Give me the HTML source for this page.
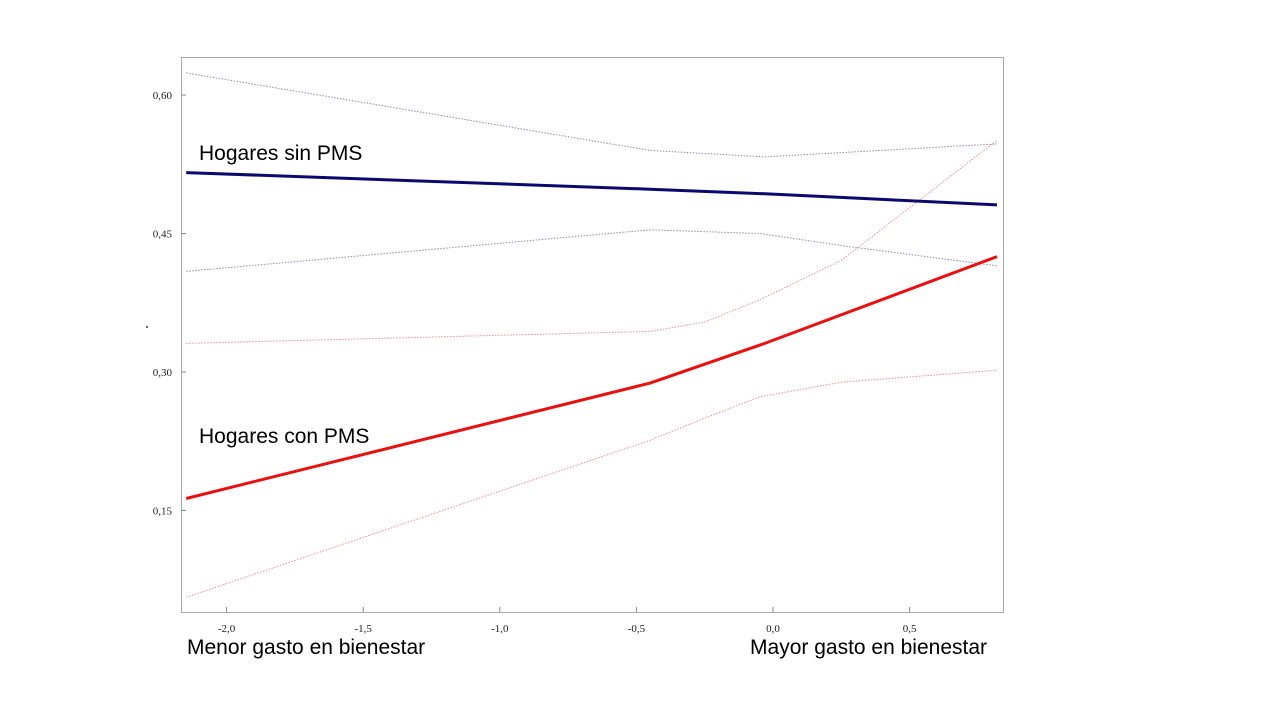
<!DOCTYPE html>
<html><head><meta charset="utf-8"><style>
body{margin:0;background:#fff;width:1280px;height:720px;overflow:hidden}
svg{display:block}
.tick{font-family:"Liberation Serif",serif;font-size:11px;fill:#222}
.lbl{font-family:"Liberation Sans","DejaVu Sans",sans-serif;font-size:21px;fill:#000}
</style></head><body>
<svg id="chart" width="1280" height="720" viewBox="0 0 1280 720"></svg>
<script>
const xTicks=[-2.0,-1.5,-1.0,-0.5,0.0,0.5];
const yTicks=[0.15,0.30,0.45,0.60];
const xTickLabels=["-2,0","-1,5","-1,0","-0,5","0,0","0,5"];
const yTickLabels=["0,15","0,30","0,45","0,60"];
const blueX=[-2.148,-0.45,-0.03,0.82];
const blueY=[0.516,0.498,0.493,0.481];
const blueUpX=[-2.148,-0.45,-0.03,0.82];
const blueUpY=[0.624,0.540,0.533,0.547];
const blueLoX=[-2.148,-0.45,-0.05,0.3,0.82];
const blueLoY=[0.409,0.454,0.450,0.435,0.415];
const redX=[-2.148,-0.45,-0.03,0.82];
const redY=[0.163,0.288,0.331,0.425];
const redUpX=[-2.148,-0.45,-0.25,-0.05,0.25,0.82];
const redUpY=[0.331,0.344,0.354,0.378,0.421,0.551];
const redLoX=[-2.148,-0.45,-0.25,-0.05,0.25,0.82];
const redLoY=[0.056,0.226,0.250,0.273,0.289,0.302];

const NS="http://www.w3.org/2000/svg";
const svg=document.getElementById('chart');
const X=v=>773+v*273.2;
const Y=v=>372-(v-0.30)*923.3;
function mk(t,a){const e=document.createElementNS(NS,t);for(const k in a)e.setAttribute(k,a[k]);svg.appendChild(e);return e;}
const frame=mk('rect',{x:181.5,y:57.5,width:822,height:555,fill:'none',stroke:'#aaa','stroke-width':1});


xTicks.forEach((t,i)=>{
  const l=mk('line',{x1:X(t),x2:X(t),y1:612,y2:607,stroke:'#888'});
  
  
  const tx=mk('text',{x:X(t),y:632,'text-anchor':'middle',class:'tick'});tx.textContent=xTickLabels[i];
  
  
});
yTicks.forEach((t,i)=>{
  const l=mk('line',{x1:181,x2:186,y1:Y(t),y2:Y(t),stroke:'#888'});
  
  
  const tx=mk('text',{x:172,y:Y(t)+4,'text-anchor':'end',class:'tick'});tx.textContent=yTickLabels[i];
  
  
});
function line(xs,ys,st,w,dash,name){
  const d=xs.map((x,i)=>(i?'L':'M')+X(x).toFixed(1)+','+Y(ys[i]).toFixed(1)).join('');
  const p=mk('path',{d:d,fill:'none',stroke:st,'stroke-width':w});
  if(dash)p.setAttribute('stroke-dasharray',dash);
  
  
}
line(blueUpX,blueUpY,'#8a8ac0',1,'1.5,1.5','blue-upper-ci');
line(blueLoX,blueLoY,'#8a8ac0',1,'1.5,1.5','blue-lower-ci');
line(redUpX,redUpY,'#f09090',1,'1.5,1.5','red-upper-ci');
line(redLoX,redLoY,'#f09090',1,'1.5,1.5','red-lower-ci');
line(blueX,blueY,'#0a0a6e',3,null,'line-hogares-sin-pms');
line(redX,redY,'#e81010',3,null,'line-hogares-con-pms');
const dot=mk('circle',{cx:147,cy:327,r:1,fill:'#333'});


function txt(x,y,s,name,anchor){const t=mk('text',{x:x,y:y,class:'lbl','text-anchor':anchor||'start'});t.textContent=s;
  
  }
txt(199,160,'Hogares sin PMS','label-hogares-sin-pms');
txt(199,443,'Hogares con PMS','label-hogares-con-pms');
txt(187,654,'Menor gasto en bienestar','x-label-left');
txt(987,654,'Mayor gasto en bienestar','x-label-right','end');
</script>
</body></html>
